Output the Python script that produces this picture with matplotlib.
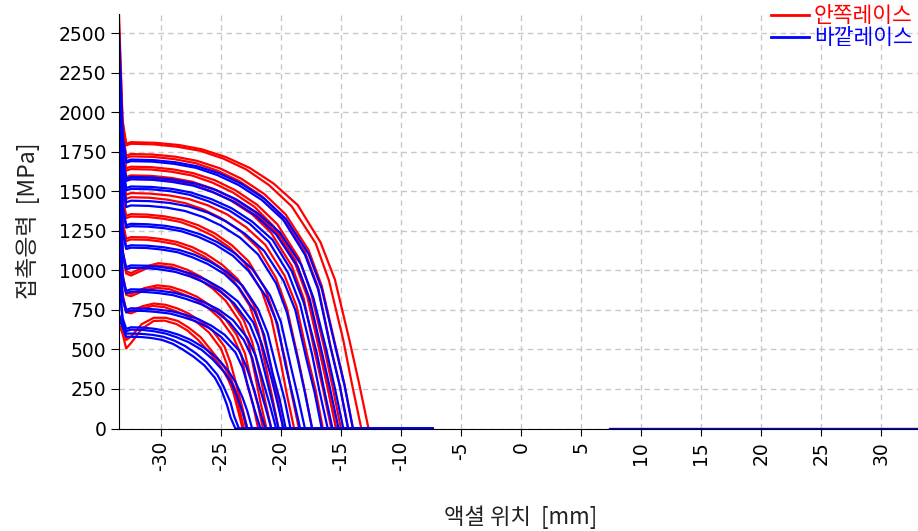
import matplotlib
matplotlib.use("Agg")
import matplotlib.pyplot as plt
from matplotlib.lines import Line2D

plt.rcParams['font.family'] = ['Noto Sans CJK KR', 'DejaVu Sans']
plt.rcParams['axes.unicode_minus'] = False

# 안쪽레이스 (inner race) contact stress, x in mm, y in MPa
head_x = [-33.5, -33.2, -32.9]
inner_head = [
    [2620, 1950, 1800], [2550, 1930, 1790], [2450, 1880, 1725], [2300, 1790, 1645],
    [2200, 1730, 1590], [2100, 1610, 1478], [2000, 1580, 1452], [1900, 1460, 1345],
    [1800, 1310, 1200], [1600, 1130, 995], [1400, 980, 860], [1100, 850, 750],
    [660, 600, 506],
    [2420, 1860, 1710], [2280, 1770, 1630], [2180, 1710, 1575], [1880, 1440, 1330],
    [1780, 1290, 1185], [1580, 1110, 980], [1380, 960, 845], [1080, 830, 735],
    [720, 640, 560],
]
inner_x = [
    [-32.5, -30.5, -28.5, -26.6, -24.6, -22.6, -20.6, -18.6, -16.7, -15.5, -14.3, -13.5, -12.7],
    [-32.5, -30.6, -28.7, -26.7, -24.8, -22.9, -21.0, -19.1, -17.1, -16.0, -14.8, -14.1, -13.3],
    [-32.5, -30.7, -28.8, -27.0, -25.1, -23.3, -21.4, -19.6, -17.7, -16.6, -15.5, -14.7, -14.0],
    [-32.5, -30.8, -29.0, -27.3, -25.5, -23.8, -22.0, -20.3, -18.5, -17.5, -16.4, -15.7, -15.0],
    [-32.5, -30.8, -29.1, -27.4, -25.7, -24.0, -22.2, -20.5, -18.8, -17.8, -16.8, -16.1, -15.4],
    [-32.5, -30.9, -29.3, -27.7, -26.1, -24.5, -22.9, -21.3, -19.7, -18.7, -17.8, -17.1, -16.5],
    [-32.5, -31.0, -29.5, -28.0, -26.5, -25.0, -23.4, -21.9, -20.4, -19.5, -18.6, -18.0, -17.4],
    [-32.5, -31.1, -29.7, -28.3, -26.9, -25.5, -24.1, -22.7, -21.3, -20.5, -19.6, -19.1, -18.5],
    [-32.5, -31.2, -30.0, -28.7, -27.4, -26.2, -24.9, -23.6, -22.3, -21.6, -20.8, -20.3, -19.8],
    [-32.5, -31.3, -30.2, -29.0, -27.8, -26.7, -25.5, -24.3, -23.1, -22.4, -21.7, -21.3, -20.8],
    [-32.5, -31.4, -30.3, -29.2, -28.1, -27.0, -25.9, -24.8, -23.7, -23.0, -22.4, -21.9, -21.5],
    [-32.5, -31.5, -30.6, -29.6, -28.6, -27.7, -26.7, -25.7, -24.7, -24.2, -23.6, -23.2, -22.8],
    [-32.5, -31.6, -30.6, -29.7, -28.7, -27.8, -26.9, -25.9, -25.0, -24.4, -23.9, -23.5, -23.1],
    [-32.5, -30.7, -28.9, -27.1, -25.3, -23.5, -21.6, -19.9, -18.0, -16.9, -15.9, -15.1, -14.4],
    [-32.5, -30.8, -29.1, -27.4, -25.7, -24.0, -22.2, -20.6, -18.8, -17.8, -16.8, -16.1, -15.4],
    [-32.5, -30.8, -29.2, -27.5, -25.9, -24.2, -22.4, -20.8, -19.1, -18.1, -17.2, -16.5, -15.8],
    [-32.5, -31.1, -29.8, -28.4, -27.1, -25.7, -24.3, -23.0, -21.6, -20.8, -20.0, -19.5, -18.9],
    [-32.5, -31.2, -30.1, -28.8, -27.6, -26.4, -25.1, -23.9, -22.6, -21.9, -21.2, -20.7, -20.2],
    [-32.5, -31.3, -30.3, -29.1, -28.0, -26.9, -25.7, -24.6, -23.4, -22.7, -22.1, -21.7, -21.2],
    [-32.5, -31.4, -30.4, -29.3, -28.3, -27.2, -26.1, -25.1, -24.0, -23.3, -22.8, -22.3, -21.9],
    [-32.5, -31.5, -30.7, -29.7, -28.8, -27.9, -26.9, -26.0, -25.0, -24.5, -24.0, -23.6, -23.2],
    [-32.5, -31.6, -30.6, -29.6, -28.6, -27.7, -26.7, -25.8, -24.8, -24.2, -23.7, -23.3, -22.9],
]
inner_y = [
    [1810, 1806, 1792, 1765, 1716, 1647, 1548, 1412, 1177, 941, 561, 290, 0],
    [1800, 1796, 1782, 1755, 1706, 1638, 1539, 1404, 1170, 936, 558, 288, 0],
    [1735, 1732, 1718, 1692, 1645, 1579, 1483, 1353, 1128, 902, 538, 278, 0],
    [1655, 1652, 1638, 1614, 1569, 1506, 1415, 1291, 1076, 861, 513, 265, 0],
    [1600, 1597, 1584, 1560, 1517, 1456, 1368, 1248, 1040, 832, 496, 256, 0],
    [1488, 1485, 1473, 1451, 1411, 1354, 1272, 1161, 967, 774, 461, 238, 0],
    [1462, 1459, 1447, 1425, 1386, 1330, 1250, 1140, 950, 760, 453, 234, 0],
    [1355, 1352, 1341, 1321, 1285, 1233, 1159, 1057, 881, 705, 420, 217, 0],
    [1210, 1208, 1198, 1180, 1147, 1101, 1035, 944, 787, 629, 375, 194, 0],
    [982, 1024, 1045, 1035, 1003, 961, 899, 820, 684, 549, 324, 167, 0],
    [851, 887, 905, 896, 869, 833, 778, 710, 593, 475, 281, 145, 0],
    [743, 774, 790, 782, 758, 727, 679, 620, 517, 415, 245, 126, 0],
    [540, 630, 680, 682, 660, 620, 560, 476, 390, 310, 220, 140, 0],
    [1720, 1717, 1703, 1677, 1630, 1565, 1469, 1340, 1116, 892, 531, 274, 0],
    [1640, 1637, 1623, 1599, 1554, 1492, 1401, 1278, 1064, 851, 506, 261, 0],
    [1585, 1582, 1569, 1545, 1502, 1442, 1354, 1235, 1028, 822, 489, 252, 0],
    [1340, 1337, 1326, 1306, 1270, 1219, 1145, 1044, 869, 695, 413, 213, 0],
    [1195, 1193, 1183, 1165, 1132, 1087, 1021, 931, 775, 619, 368, 190, 0],
    [967, 1009, 1030, 1020, 988, 947, 885, 807, 672, 539, 317, 163, 0],
    [836, 872, 890, 881, 854, 819, 764, 697, 581, 465, 274, 141, 0],
    [728, 759, 775, 767, 743, 713, 665, 607, 505, 405, 238, 122, 0],
    [580, 660, 700, 700, 680, 638, 578, 493, 400, 320, 228, 145, 0],
]

# 바깥레이스 (outer race) contact stress
outer_head = [
    [2500, 1850, 1690], [2450, 1830, 1680], [2350, 1730, 1580], [2250, 1670, 1520],
    [2150, 1570, 1430], [2050, 1540, 1400], [1950, 1410, 1285], [1850, 1260, 1150],
    [1700, 1120, 1020], [1500, 960, 870], [1250, 830, 750], [950, 700, 630],
    [700, 640, 580],
    [2330, 1715, 1565], [2230, 1655, 1505], [1930, 1395, 1270], [1830, 1245, 1135],
    [1680, 1105, 1005], [1480, 945, 855], [1230, 815, 735], [930, 685, 615],
    [720, 655, 600],
]
outer_x = [
    [-32.5, -30.7, -28.8, -27.0, -25.1, -23.3, -21.4, -19.6, -17.7, -16.6, -15.5, -14.7, -14.0],
    [-32.5, -30.7, -28.9, -27.1, -25.3, -23.5, -21.6, -19.8, -18.0, -16.9, -15.9, -15.1, -14.4],
    [-32.5, -30.7, -29.0, -27.2, -25.4, -23.7, -21.9, -20.1, -18.3, -17.3, -16.2, -15.5, -14.8],
    [-32.5, -30.8, -29.1, -27.5, -25.8, -24.1, -22.4, -20.7, -19.1, -18.1, -17.0, -16.4, -15.7],
    [-32.5, -30.9, -29.3, -27.7, -26.1, -24.6, -23.0, -21.4, -19.8, -18.8, -17.9, -17.2, -16.6],
    [-32.5, -31.0, -29.5, -28.0, -26.5, -25.0, -23.4, -21.9, -20.4, -19.5, -18.6, -18.0, -17.4],
    [-32.5, -31.1, -29.6, -28.2, -26.7, -25.3, -23.8, -22.4, -20.9, -20.0, -19.2, -18.6, -18.0],
    [-32.5, -31.2, -29.8, -28.5, -27.2, -25.9, -24.5, -23.2, -21.9, -21.1, -20.3, -19.7, -19.2],
    [-32.5, -31.2, -30.0, -28.7, -27.4, -26.2, -24.9, -23.6, -22.3, -21.6, -20.8, -20.3, -19.8],
    [-32.5, -31.3, -30.1, -28.9, -27.7, -26.5, -25.2, -24.0, -22.8, -22.1, -21.4, -20.9, -20.4],
    [-32.5, -31.4, -30.3, -29.1, -28.0, -26.9, -25.8, -24.7, -23.5, -22.9, -22.2, -21.8, -21.3],
    [-32.5, -31.5, -30.5, -29.5, -28.5, -27.5, -26.4, -25.4, -24.4, -23.8, -23.2, -22.8, -22.4],
    [-32.5, -31.6, -30.8, -29.9, -29.0, -28.2, -27.3, -26.4, -25.5, -25.0, -24.5, -24.2, -23.8],
    [-32.5, -30.7, -29.1, -27.3, -25.6, -23.9, -22.1, -20.4, -18.6, -17.6, -16.6, -15.9, -15.2],
    [-32.5, -30.8, -29.2, -27.6, -26.0, -24.3, -22.6, -21.0, -19.4, -18.4, -17.4, -16.8, -16.1],
    [-32.5, -31.1, -29.7, -28.3, -26.9, -25.5, -24.0, -22.7, -21.2, -20.3, -19.6, -19.0, -18.4],
    [-32.5, -31.2, -29.9, -28.6, -27.4, -26.1, -24.7, -23.5, -22.2, -21.4, -20.7, -20.1, -19.6],
    [-32.5, -31.2, -30.1, -28.8, -27.6, -26.4, -25.1, -23.9, -22.6, -21.9, -21.2, -20.7, -20.2],
    [-32.5, -31.3, -30.2, -29.0, -27.9, -26.7, -25.4, -24.3, -23.1, -22.4, -21.8, -21.3, -20.8],
    [-32.5, -31.4, -30.4, -29.2, -28.2, -27.1, -26.0, -25.0, -23.8, -23.2, -22.6, -22.2, -21.7],
    [-32.5, -31.5, -30.6, -29.6, -28.7, -27.7, -26.6, -25.7, -24.7, -24.1, -23.6, -23.2, -22.8],
    [-32.5, -31.6, -30.7, -29.8, -28.9, -28.0, -27.1, -26.2, -25.3, -24.8, -24.2, -23.9, -23.5],
]
outer_y = [
    [1700, 1697, 1683, 1658, 1612, 1547, 1454, 1326, 1105, 884, 527, 272, 0],
    [1690, 1687, 1673, 1648, 1602, 1538, 1445, 1318, 1099, 879, 524, 270, 0],
    [1590, 1587, 1574, 1550, 1507, 1447, 1359, 1240, 1034, 827, 493, 254, 0],
    [1530, 1527, 1515, 1492, 1450, 1392, 1308, 1193, 995, 796, 474, 245, 0],
    [1440, 1437, 1426, 1404, 1365, 1310, 1231, 1123, 936, 749, 446, 230, 0],
    [1410, 1407, 1396, 1375, 1337, 1283, 1206, 1100, 917, 733, 437, 226, 0],
    [1294, 1291, 1281, 1262, 1227, 1178, 1106, 1009, 841, 673, 401, 207, 0],
    [1158, 1156, 1146, 1129, 1098, 1054, 990, 903, 753, 602, 359, 185, 0],
    [1031, 1029, 1021, 1005, 977, 938, 882, 804, 670, 536, 320, 165, 0],
    [880, 878, 871, 858, 834, 801, 752, 686, 572, 458, 273, 141, 0],
    [760, 758, 752, 741, 720, 692, 650, 593, 494, 395, 236, 122, 0],
    [640, 638, 630, 615, 592, 560, 510, 450, 365, 295, 195, 110, 0],
    [580, 578, 572, 560, 535, 500, 455, 400, 320, 250, 150, 70, 0],
    [1575, 1572, 1559, 1535, 1492, 1433, 1345, 1227, 1022, 817, 486, 250, 0],
    [1515, 1512, 1500, 1477, 1435, 1378, 1294, 1180, 983, 786, 467, 241, 0],
    [1279, 1276, 1266, 1247, 1212, 1164, 1092, 996, 829, 663, 394, 203, 0],
    [1143, 1141, 1131, 1114, 1083, 1040, 976, 890, 741, 592, 352, 181, 0],
    [1016, 1014, 1006, 990, 962, 924, 868, 791, 658, 526, 313, 161, 0],
    [865, 863, 856, 843, 819, 787, 738, 673, 560, 448, 266, 137, 0],
    [745, 743, 737, 726, 705, 678, 636, 580, 482, 385, 229, 118, 0],
    [625, 623, 615, 600, 577, 546, 497, 438, 355, 287, 189, 106, 0],
    [600, 598, 592, 580, 556, 522, 476, 420, 340, 268, 165, 78, 0],
]

# flat zero stretches either side of the centre
zero_left_end = -7.4
zero_right = [7.4, 33.1]

x_ticks = [-30, -25, -20, -15, -10, -5, 0, 5, 10, 15, 20, 25, 30]
y_ticks = [0, 250, 500, 750, 1000, 1250, 1500, 1750, 2000, 2250, 2500]

fig = plt.figure(figsize=(9.18, 5.31), dpi=100)
ax = fig.add_axes([0.1296, 0.193, 0.8704, 0.7806])

for head, xs, ys in zip(inner_head, inner_x, inner_y):
    ax.plot(head_x + xs + [zero_left_end], head + ys + [0], color='#ff0000', lw=1.6)
ax.plot(zero_right, [0, 0], color='#ff0000', lw=1.6)
for head, xs, ys in zip(outer_head, outer_x, outer_y):
    ax.plot(head_x + xs + [zero_left_end], head + ys + [0], color='#0000ff', lw=1.6)
ax.plot(zero_right, [0, 0], color='#0000ff', lw=1.6)

ax.set_xlim(-33.5, 33.1)
ax.set_ylim(0, 2620)
ax.set_xticks(x_ticks)
ax.set_yticks(y_ticks)
ax.tick_params(axis='x', labelrotation=90, labelsize=13.5, length=5, pad=4)
ax.tick_params(axis='y', labelsize=13.5, length=6, pad=3)
for lbl in ax.get_xticklabels() + ax.get_yticklabels():
    lbl.set_family('DejaVu Sans')

ax.grid(True, ls=(0, (4, 3)), color='#c8c8c8', lw=1)
ax.set_axisbelow(True)
ax.spines['top'].set_visible(False)
ax.spines['right'].set_visible(False)

fig.text(0.567, 0.026, '액셜 위치  [mm]', fontsize=16, color='#222222',
         ha='center', va='center')
fig.text(0.03, 0.584, '접촉응력  [MPa]', fontsize=16.5, color='#222222',
         ha='center', va='center', rotation=90)

handles = [Line2D([], [], color='#ff0000', lw=2), Line2D([], [], color='#0000ff', lw=2)]
leg = fig.legend(handles, ['안쪽레이스', '바깥레이스'], loc='upper right',
                 bbox_to_anchor=(1.015, 1.027), frameon=False, fontsize=15.5,
                 handlelength=1.8, handletextpad=0.2, labelspacing=0.0)
for txt, c in zip(leg.get_texts(), ['#ff0000', '#0000ff']):
    txt.set_color(c)

fig.savefig('out.png', dpi=100)
